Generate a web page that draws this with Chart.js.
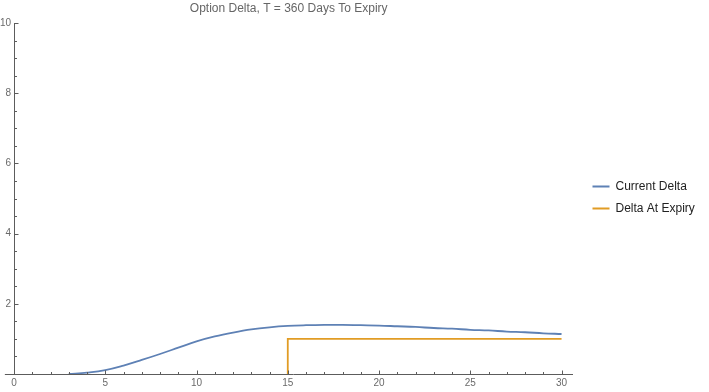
<!DOCTYPE html>
<html>
<head>
<meta charset="utf-8">
<style>
  html, body { margin: 0; padding: 0; background: #ffffff; }
  #wrap { width: 709px; height: 392px; position: relative; }
</style>
<script src="https://cdn.jsdelivr.net/npm/chart.js@4/dist/chart.umd.min.js"></script>
</head>
<body>
<div id="wrap"><canvas id="c"></canvas></div>
<script>
// ---- data ----
const chartTitle = "Option Delta, T = 360 Days To Expiry";
const seriesNames = ["Current Delta", "Delta At Expiry"];

const currentDeltaX = [3, 4, 5, 6, 7, 8, 9, 10, 11, 12, 13, 14, 15, 16, 17, 18, 19, 20, 21, 22, 23, 24, 25, 26, 27, 28, 29, 30];
const currentDeltaY = [0.00, 0.04, 0.11, 0.24, 0.40, 0.57, 0.75, 0.93, 1.07, 1.18, 1.27, 1.33, 1.37, 1.39, 1.40, 1.40, 1.39, 1.38, 1.36, 1.34, 1.31, 1.29, 1.26, 1.24, 1.21, 1.19, 1.16, 1.14];

const expiryDeltaX = [15, 15, 30];
const expiryDeltaY = [0, 1, 1];

const xMajorTicks = [0, 5, 10, 15, 20, 25, 30];
const yMajorTicks = [2, 4, 6, 8, 10];
const xMinorStep = 1;
const yMinorStep = 0.5;

const xRange = [0, 30.6];
const xAxisLeftExtension = -0.5;
const yRange = [0, 10];

// ---- styling ----
const BLUE = '#5e81b5';
const ORANGE = '#e19c24';
const AXIS = '#5c5c5c';
const LABEL = '#6a6a6a';
const FONT = '"Liberation Sans", Arial, Helvetica, sans-serif';

const toPoints = (xs, ys) => xs.map((v, i) => ({ x: v, y: ys[i] }));

const axesDecor = {
  id: 'axesDecor',
  afterLayout(chart) {
    // centre the title over the whole plot range (including the short axis extension)
    const xs = chart.scales.x, tb = chart.titleBlock;
    if (tb) {
      const left = xs.getPixelForValue(xAxisLeftExtension);
      tb.left = left;
      tb.width = tb.right - left;
    }
  },
  afterDatasetsDraw(chart) {
    const { ctx } = chart;
    const xs = chart.scales.x, ys = chart.scales.y;
    const y0 = Math.round(ys.getPixelForValue(0)) + 0.5;
    const x0 = Math.round(xs.getPixelForValue(0)) + 0.5;
    ctx.save();
    ctx.strokeStyle = AXIS;
    ctx.lineWidth = 1;
    ctx.beginPath();
    ctx.moveTo(xs.getPixelForValue(xAxisLeftExtension), y0);
    ctx.lineTo(x0, y0);
    for (let v = xMinorStep; v <= xRange[1] + 1e-9; v += xMinorStep) {
      const px = Math.round(xs.getPixelForValue(v)) + 0.5;
      const len = xMajorTicks.includes(v) ? 4 : 2.5;
      ctx.moveTo(px, y0);
      ctx.lineTo(px, y0 - len);
    }
    for (let v = yMinorStep; v <= yRange[1] + 1e-9; v += yMinorStep) {
      const py = Math.round(ys.getPixelForValue(v)) + 0.5;
      const len = yMajorTicks.includes(v) ? 4 : 2.5;
      ctx.moveTo(x0, py);
      ctx.lineTo(x0 + len, py);
    }
    ctx.stroke();
    ctx.restore();
  }
};

new Chart(document.getElementById('c'), {
  type: 'line',
  data: {
    datasets: [
      {
        label: seriesNames[0],
        data: toPoints(currentDeltaX, currentDeltaY),
        borderColor: BLUE,
        backgroundColor: BLUE,
        borderWidth: 1.8,
        pointRadius: 0,
        tension: 0.4,
        fill: false,
        xAxisID: 'x',
        yAxisID: 'y'
      },
      {
        label: seriesNames[1],
        data: toPoints(expiryDeltaX, expiryDeltaY),
        borderColor: ORANGE,
        backgroundColor: ORANGE,
        borderWidth: 1.8,
        pointRadius: 0,
        tension: 0,
        fill: false,
        xAxisID: 'x',
        yAxisID: 'y'
      }
    ]
  },
  options: {
    responsive: true,
    maintainAspectRatio: false,
    animation: false,
    events: [],
    layout: { padding: { left: 0, right: 10, top: 3, bottom: 0 } },
    plugins: {
      title: {
        display: true,
        text: chartTitle,
        fullSize: false,
        color: '#666666',
        font: { family: FONT, size: 12, weight: 'normal' },
        padding: { top: -2, bottom: 7.6 }
      },
      legend: {
        display: true,
        position: 'right',
        labels: {
          usePointStyle: true,
          pointStyle: 'line',
          pointStyleWidth: 17,
          color: '#222222',
          font: { family: FONT, size: 12 },
          padding: 10
        }
      },
      tooltip: { enabled: false }
    },
    scales: {
      x: {
        type: 'linear',
        position: 'bottom',
        min: xRange[0],
        max: xRange[1],
        afterBuildTicks: (s) => { s.ticks = xMajorTicks.map(v => ({ value: v })); },
        afterFit: (s) => { s.height = 18; },
        ticks: { color: LABEL, font: { family: FONT, size: 10 }, padding: 3, maxRotation: 0 },
        grid: { display: true, drawOnChartArea: false, drawTicks: false },
        border: { display: true, color: AXIS, width: 1 }
      },
      y: {
        type: 'linear',
        position: 'left',
        min: yRange[0],
        max: yRange[1],
        afterBuildTicks: (s) => { s.ticks = yMajorTicks.map(v => ({ value: v })); },
        afterFit: (s) => { s.width = 14; },
        ticks: { color: LABEL, font: { family: FONT, size: 10 }, padding: 3 },
        grid: { display: true, drawOnChartArea: false, drawTicks: false },
        border: { display: true, color: AXIS, width: 1 }
      },
      spacer: {
        type: 'linear',
        axis: 'y',
        position: 'right',
        display: true,
        ticks: { display: false },
        grid: { display: false, drawTicks: false },
        border: { display: false },
        afterFit: (s) => { s.width = 10; }
      }
    }
  },
  plugins: [axesDecor]
});
</script>
</body>
</html>
